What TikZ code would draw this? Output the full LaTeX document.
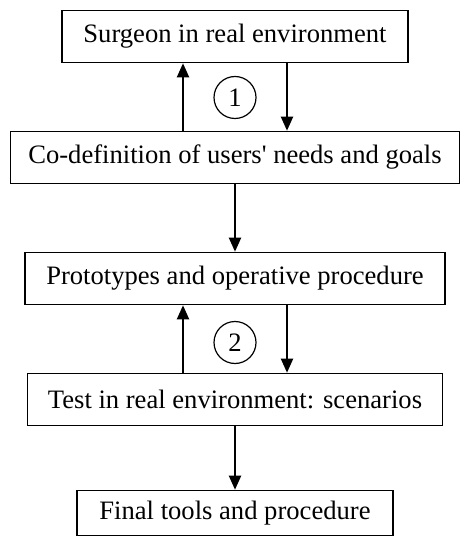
\documentclass[tikz,border=0pt]{standalone}
\usepackage{fontspec}
\setmainfont{Liberation Serif}
\usetikzlibrary{arrows.meta,positioning}

\begin{document}
\begin{tikzpicture}[>={Triangle[width=6pt,length=7pt]},node distance=60.5pt,on grid,
   stage/.style={draw,line width=0.8pt,minimum height=26pt,inner sep=0pt,font=\fontsize{13.3}{16}\selectfont},
   cycle/.style={draw,circle,line width=0.6pt,minimum size=21pt,inner sep=0pt,font=\fontsize{13.3}{16}\selectfont}]
   \useasboundingbox (0,0) rectangle (230pt,-269.5pt);
   \node[stage,minimum width=173pt] (surgeon) at (117.5pt,-18.25pt) {Surgeon in real environment};
   \node[stage,minimum width=224.5pt] (needs) [below=of surgeon] {Co-definition of users\textquotesingle{} needs and goals};
   \node[stage,minimum width=210pt] (protos) [below=of needs] {Prototypes and operative procedure};
   \node[stage,minimum width=207.5pt] (tests) [below=of protos] {Test in real environment: scenarios};
   \node[stage,minimum width=158pt,minimum height=22.5pt] (final) [below=56.75pt of tests] {Final tools and procedure};
   \node[cycle] (c_1) [below=30.5pt of surgeon] {1};
   \node[cycle] (c_2) [below=32pt of protos] {2};
    \path[->,line width=1pt]
    ([xshift=-26pt]needs.north) edge ([xshift=-26pt]surgeon.south)
    ([xshift=26pt]surgeon.south) edge ([xshift=26pt]needs.north)
    (needs) edge (protos)
    ([xshift=-26pt]tests.north) edge ([xshift=-26pt]protos.south)
    ([xshift=26pt]protos.south) edge ([xshift=26pt]tests.north)
    (tests) edge (final);
\end{tikzpicture}
\end{document}
